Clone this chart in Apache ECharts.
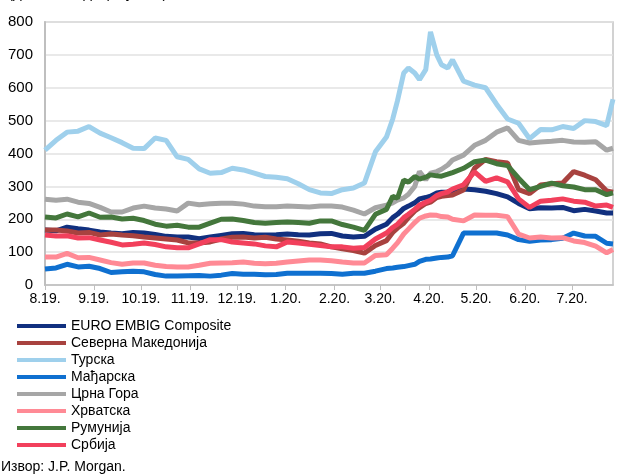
<!DOCTYPE html>
<html>
<head>
<meta charset="utf-8">
<script src="https://cdn.jsdelivr.net/npm/echarts@6/dist/echarts.min.js"></script>
<style>
html,body{margin:0;padding:0;background:#fff;}
#main{width:617px;height:476px;}
</style>
</head>
<body>
<div id="main"></div>
<script>
// датуми (недељни, гушће у марту/априлу 2020)
var dates = ['2019-08-01','2019-08-08','2019-08-15','2019-08-22','2019-08-29',
  '2019-09-05','2019-09-12','2019-09-19','2019-09-26',
  '2019-10-03','2019-10-10','2019-10-17','2019-10-24','2019-10-31',
  '2019-11-07','2019-11-14','2019-11-21','2019-11-28',
  '2019-12-05','2019-12-12','2019-12-19','2019-12-26',
  '2020-01-02','2020-01-09','2020-01-16','2020-01-23','2020-01-30',
  '2020-02-06','2020-02-13','2020-02-20','2020-02-27',
  '2020-03-05','2020-03-09','2020-03-12','2020-03-16','2020-03-19','2020-03-23','2020-03-26','2020-03-30',
  '2020-04-02','2020-04-06','2020-04-09','2020-04-13','2020-04-16','2020-04-23','2020-04-30',
  '2020-05-07','2020-05-14','2020-05-21','2020-05-28',
  '2020-06-04','2020-06-11','2020-06-18','2020-06-25',
  '2020-07-02','2020-07-09','2020-07-16','2020-07-23','2020-07-27'];

var embig = [167,165,176,171,167, 161,158,156,160, 158,154,148,146,146, 141,146,151,156, 157,153,152,153,
  155,153,152,156,157, 149,146,148,170, 185,205,215,233,240,250,262,266, 270,280,282,283,287,292,290,
  285,278,268,248, 232,235,234,236, 226,230,225,219,219];
var makedonija = [167,167,164,158,160, 152,155,152,150, 146,143,140,137,128, 128,131,140,145, 146,143,145,140,
  137,133,128,125,116, 110,105,97,120, 135,160,173,188,205,225,235,248, 252,266,270,272,274,289,355,
  382,375,371,290, 278,304,308,310, 345,334,320,286,282];
var turska = [410,440,465,468,482, 462,448,433,416, 415,447,440,390,382, 353,340,342,355, 350,340,330,328,
  323,308,290,280,278, 290,295,310,405, 450,505,560,645,660,645,625,655, 770,700,670,660,685,620,608,
  600,550,505,492, 445,473,472,482, 476,500,497,485,565];
var madjarska = [49,52,63,55,57, 50,38,40,42, 40,32,27,27,28, 29,27,30,35, 33,33,31,32,
  36,36,36,36,35, 33,36,36,42, 50,52,54,56,59,63,72,78, 79,82,84,85,89,158,158,
  158,158,152,138, 133,137,138,142, 158,149,148,127,125];
var crnaGora = [261,258,261,252,248, 236,222,222,234, 240,234,231,225,249, 244,247,249,249, 246,240,238,238,
  240,239,237,240,240, 237,228,216,235, 243,250,258,265,276,300,345,320, 340,345,352,365,380,395,425,
  440,465,478,440, 432,435,437,440, 435,434,436,410,416];
var hrvatska = [85,85,96,83,84, 76,68,63,67, 67,60,56,55,55, 60,66,67,68, 70,66,65,66,
  70,73,76,76,74, 70,67,67,90, 92,112,128,155,170,190,203,210, 213,212,208,207,200,195,213,
  212,212,208,155, 143,146,143,144, 134,129,118,98,108];
var rumunija = [207,204,216,207,219, 206,207,201,203, 196,185,179,182,176, 176,188,200,201, 196,190,188,190,
  192,190,188,195,195, 184,176,166,215, 230,270,264,319,313,330,322,328, 335,332,331,337,342,355,375,
  380,369,363,325, 290,300,310,302, 298,290,290,275,280];
var srbija = [152,149,150,143,144, 137,130,122,124, 128,123,116,113,113, 125,138,138,131, 128,125,119,116,
  131,128,124,120,116, 116,112,114,140, 158,175,185,205,215,230,243,252, 258,272,278,283,292,305,344,
  315,326,314,262, 236,255,258,262, 255,252,240,243,236];

var names = ['EURO EMBIG Composite','Северна Македонија','Турска','Мађарска','Црна Гора','Хрватска','Румунија','Србија'];
var values = [embig, makedonija, turska, madjarska, crnaGora, hrvatska, rumunija, srbija];
var colors = ['#11307f','#a8423f','#9fd0ec','#0f70d0','#a6a6a6','#ff8a95','#44773c','#f2405c'];

var font = 'Liberation Sans, Arial, sans-serif';

function pairs(vals){
  var out = [];
  for (var i = 0; i < dates.length; i++) out.push([dates[i], vals[i]]);
  return out;
}

var series = [];
for (var i = 0; i < names.length; i++) {
  series.push({
    name: names[i],
    type: 'line',
    showSymbol: false,
    symbol: 'none',
    color: colors[i],
    lineStyle: { width: 5, color: colors[i] },
    itemStyle: { color: colors[i] },
    data: pairs(values[i])
  });
}

var chart = echarts.init(document.getElementById('main'));
chart.setOption({
  animation: false,
  textStyle: { fontFamily: font },
  grid: { left: 45, top: 22, right: 4, bottom: 191, show: true, borderColor: '#c4c4c4', borderWidth: 1.5 },
  graphic: [
    // наслов је у оригиналу одсечен, видљив је само доњи део
    { type: 'text', left: 8, top: -14, style: { text: '(дневни подаци, у б.п.)', font: '15px ' + font, fill: '#000' } },
    { type: 'text', left: 1, top: 460, style: { text: 'Извор: J.P. Morgan.', font: '14px ' + font, fill: '#000' } }
  ],
  legend: {
    orient: 'vertical',
    left: 17,
    top: 319,
    padding: 0,
    itemWidth: 49,
    itemHeight: 4,
    itemGap: 3,
    icon: 'rect',
    data: names,
    textStyle: { fontSize: 14, lineHeight: 14, color: '#000', fontFamily: font }
  },
  xAxis: {
    type: 'time',
    min: '2019-08-01',
    max: '2020-07-27',
    splitNumber: 12,
    axisLine: { lineStyle: { color: '#bfbfbf', width: 1.5 } },
    axisTick: { show: true, length: 5, lineStyle: { color: '#bfbfbf' } },
    splitLine: { show: false },
    axisLabel: {
      color: '#000', fontSize: 14, fontFamily: font, margin: 7,
      formatter: function (val) {
        var d = new Date(val);
        return (d.getMonth() + 1) + '.' + String(d.getFullYear()).slice(2) + '.';
      }
    }
  },
  yAxis: {
    type: 'value',
    min: 0,
    max: 800,
    interval: 100,
    axisLine: { show: true, lineStyle: { color: '#bfbfbf', width: 2 } },
    axisTick: { show: false },
    splitLine: { lineStyle: { color: '#e2e2e2', width: 1.5 } },
    axisLabel: { color: '#000', fontSize: 15, fontFamily: font, margin: 12 }
  },
  series: series
});
</script>
</body>
</html>
